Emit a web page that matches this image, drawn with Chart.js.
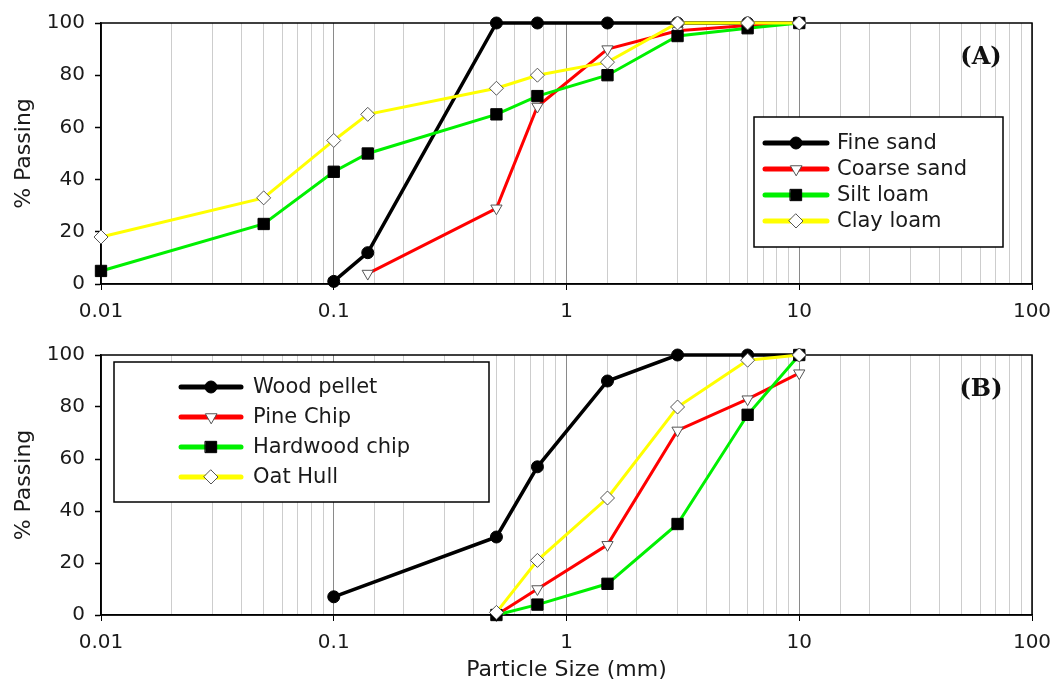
<!DOCTYPE html>
<html>
<head>
<meta charset="utf-8">
<script src="https://cdn.jsdelivr.net/npm/chart.js@4.4.0/dist/chart.umd.min.js"></script>
<style>
  html, body { margin: 0; padding: 0; background: #fff; }
  #wrapA { position: absolute; left: 0; top: 0; width: 1051px; height: 330px; }
  #wrapB { position: absolute; left: 0; top: 330px; width: 1051px; height: 355px; }
</style>
</head>
<body>
<div id="wrapA"><canvas id="chartA"></canvas></div>
<div id="wrapB"><canvas id="chartB"></canvas></div>
<script>
// values
const decades = [0.01, 0.1, 1, 10, 100];
const yTicks = [0, 20, 40, 60, 80, 100];

// (A) soils
const soilSizes  = [0.01, 0.05, 0.1, 0.14, 0.5, 0.75, 1.5, 3, 6, 10];
const fineSand   = [null, null, 1, 12, 100, 100, 100, 100, 100, 100];
const coarseSand = [null, null, null, 4, 29, 68, 90, 97, 99, 100];
const siltLoam   = [5, 23, 43, 50, 65, 72, 80, 95, 98, 100];
const clayLoam   = [18, 33, 55, 65, 75, 80, 85, 100, 100, 100];
const soilNames  = ["Fine sand", "Coarse sand", "Silt loam", "Clay loam"];

// (B) biomass
const bioSizes     = [0.1, 0.5, 0.75, 1.5, 3, 6, 10];
const woodPellet   = [7, 30, 57, 90, 100, 100, 100];
const pineChip     = [null, 0, 10, 27, 71, 83, 93];
const hardwoodChip = [null, 0, 4, 12, 35, 77, 100];
const oatHull      = [null, 1, 21, 45, 80, 98, 100];
const bioNames     = ["Wood pellet", "Pine Chip", "Hardwood chip", "Oat Hull"];

const FONT = "'DejaVu Sans', sans-serif";
const TEXT = "#1a1a1a";

// one look per series slot (same in both panels)
const looks = [
  { color: "#000000", width: 3.5, shape: "circle",  r: 6,   fill: "#000", stroke: "#000" },
  { color: "#ff0000", width: 3,   shape: "triangle", r: 6.5, fill: "#fff", stroke: "#555", rot: 180 },
  { color: "#00f000", width: 3,   shape: "rect",    r: 8,   fill: "#000", stroke: "#000" },
  { color: "#ffff00", width: 3,   shape: "rectRot", r: 7,   fill: "#fff", stroke: "#555" }
];

function isDecade(v) {
  const l = Math.log10(v);
  return Math.abs(l - Math.round(l)) < 1e-6;
}

function toPoints(xs, ys) {
  const pts = [];
  xs.forEach((x, i) => { if (ys[i] !== null) pts.push({ x: x, y: ys[i] }); });
  return pts;
}

function drawMarker(ctx, lk, x, y) {
  const r = lk.r;
  ctx.save();
  ctx.fillStyle = lk.fill;
  ctx.strokeStyle = lk.stroke;
  ctx.lineWidth = 1;
  ctx.beginPath();
  if (lk.shape === "circle") {
    ctx.arc(x, y, r, 0, Math.PI * 2);
  } else if (lk.shape === "triangle") {
    ctx.moveTo(x, y + r);
    ctx.lineTo(x - r * 0.866, y - r / 2);
    ctx.lineTo(x + r * 0.866, y - r / 2);
    ctx.closePath();
  } else if (lk.shape === "rect") {
    const s = r * Math.SQRT1_2;
    ctx.rect(x - s, y - s, 2 * s, 2 * s);
  } else {
    ctx.moveTo(x, y - r);
    ctx.lineTo(x + r, y);
    ctx.lineTo(x, y + r);
    ctx.lineTo(x - r, y);
    ctx.closePath();
  }
  ctx.fill();
  ctx.stroke();
  ctx.restore();
}

// frame, legend box and panel letter
const panelPlugin = {
  id: "panel",
  beforeDatasetsDraw(chart) {
    const { ctx, chartArea: a } = chart;
    ctx.save();
    ctx.strokeStyle = "#000";
    ctx.lineWidth = 1.5;
    ctx.strokeRect(a.left, a.top, a.right - a.left, a.bottom - a.top);
    ctx.restore();
  },
  afterDraw(chart, args, opts) {
    const { ctx, chartArea: a } = chart;
    const L = opts.legend;
    const bx = L.fromRight ? a.right - L.dx : a.left + L.dx;
    const by = a.top + L.dy;
    ctx.save();
    ctx.fillStyle = "#fff";
    ctx.fillRect(bx, by, L.w, L.h);
    ctx.strokeStyle = "#000";
    ctx.lineWidth = 1.5;
    ctx.strokeRect(bx, by, L.w, L.h);
    opts.names.forEach((name, i) => {
      const lk = looks[i];
      const y = by + L.row0 + i * L.step;
      ctx.strokeStyle = lk.color;
      ctx.lineWidth = 5;
      ctx.lineCap = "round";
      ctx.beginPath();
      ctx.moveTo(bx + L.lineX0, y);
      ctx.lineTo(bx + L.lineX1, y);
      ctx.stroke();
      drawMarker(ctx, lk, (bx + L.lineX0 + bx + L.lineX1) / 2, y);
      ctx.fillStyle = TEXT;
      ctx.font = "21px " + FONT;
      ctx.textBaseline = "middle";
      ctx.textAlign = "left";
      ctx.fillText(name, bx + L.textX, y + 1);
    });
    ctx.font = "bold 24px 'DejaVu Serif', serif";
    ctx.fillStyle = "#111";
    ctx.textAlign = "center";
    ctx.textBaseline = "middle";
    ctx.fillText(opts.letter, a.right - 51, a.top + 35);
    ctx.restore();
  }
};

function makePanel(id, sizes, series, names, letter, legend, padTop, xHeight, showTitle) {
  const datasets = series.map((ys, i) => {
    const lk = looks[i];
    return {
      label: names[i],
      data: toPoints(sizes, ys),
      showLine: true,
      borderColor: lk.color,
      borderWidth: lk.width,
      backgroundColor: lk.color,
      pointStyle: lk.shape,
      pointRadius: lk.r,
      pointRotation: lk.rot || 0,
      pointBackgroundColor: lk.fill,
      pointBorderColor: lk.stroke,
      pointBorderWidth: 1,
      tension: 0,
      clip: false,
      order: 3 - i
    };
  });

  return new Chart(document.getElementById(id), {
    type: "scatter",
    data: { datasets: datasets },
    options: {
      responsive: true,
      maintainAspectRatio: false,
      animation: false,
      layout: { padding: { top: padTop, right: 19, left: 0, bottom: 0 } },
      plugins: {
        legend: { display: false },
        tooltip: { enabled: false },
        panel: { names: names, letter: letter, legend: legend }
      },
      scales: {
        x: {
          type: "logarithmic",
          min: 0.01,
          max: 100,
          ticks: {
            autoSkip: false,
            maxRotation: 0,
            padding: 10,
            color: TEXT,
            font: { family: FONT, size: 20 },
            callback: v => (isDecade(v) && decades.some(d => Math.abs(d - v) < 1e-9)) ? String(v) : ""
          },
          grid: {
            color: c => isDecade(c.tick.value) ? "#8a8a8a" : "#cdcdcd",
            tickColor: c => isDecade(c.tick.value) ? "#000" : "rgba(0,0,0,0)",
            tickLength: 6,
            lineWidth: 1
          },
          border: { color: "#000", width: 1.5 },
          title: {
            display: showTitle,
            text: "Particle Size (mm)",
            color: TEXT,
            font: { family: FONT, size: 22 },
            padding: { top: 0, bottom: 2 }
          },
          afterFit: s => { s.height = xHeight; s.paddingLeft = 0; s.paddingRight = 0; }
        },
        y: {
          min: 0,
          max: 100,
          afterBuildTicks: s => { s.ticks = yTicks.map(v => ({ value: v })); },
          ticks: { color: TEXT, padding: 10, font: { family: FONT, size: 20 } },
          grid: { drawOnChartArea: false, drawTicks: true, tickLength: 6, tickColor: "#000", tickWidth: 1.5 },
          border: { color: "#000", width: 1.5 },
          title: {
            display: true,
            text: "% Passing",
            color: TEXT,
            font: { family: FONT, size: 22 },
            padding: { top: 11, bottom: 0 }
          },
          afterFit: s => { s.width = 101; }
        }
      }
    },
    plugins: [panelPlugin]
  });
}

makePanel("chartA", soilSizes, [fineSand, coarseSand, siltLoam, clayLoam], soilNames, "(A)",
  { fromRight: true, dx: 278, dy: 94, w: 249, h: 130, row0: 26, step: 26, lineX0: 11, lineX1: 73, textX: 83 },
  23, 46, false);

makePanel("chartB", bioSizes, [woodPellet, pineChip, hardwoodChip, oatHull], bioNames, "(B)",
  { fromRight: false, dx: 13, dy: 7, w: 375, h: 140, row0: 25, step: 30, lineX0: 67, lineX1: 127, textX: 139 },
  25, 70, true);
</script>
</body>
</html>
